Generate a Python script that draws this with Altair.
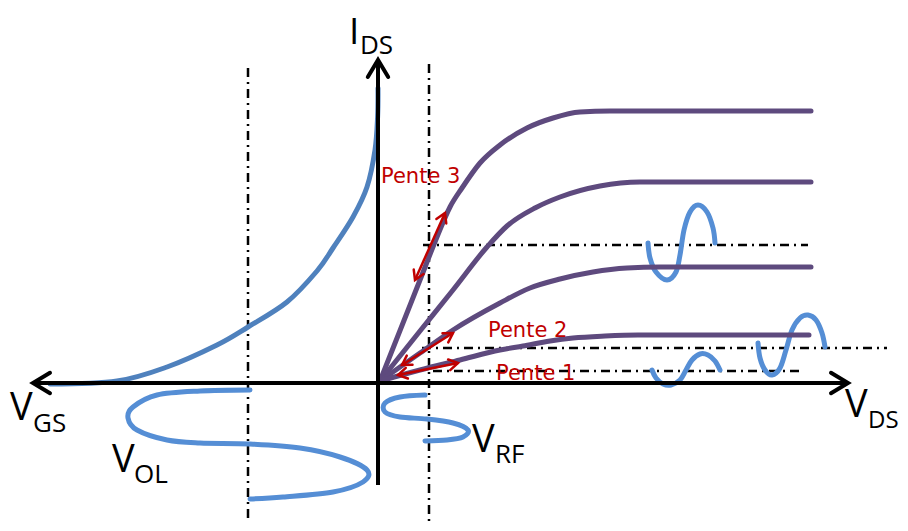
import math
import altair as alt
import pandas as pd

# ---------------- data (diagram units: x to the right, y downward) ----------------
# axes
AXIS_VDS_X = [33, 848]
AXIS_VDS_Y = [383, 383]
AXIS_IDS_X = [378, 378]
AXIS_IDS_Y = [485, 60]

# dash-dot guide lines
VGUIDE_OL_X = [248, 248]
VGUIDE_OL_Y = [68, 531]
VGUIDE_RF_X = [429, 429]
VGUIDE_RF_Y = [64, 531]
HGUIDE_TOP_X = [423, 808]
HGUIDE_TOP_Y = [245, 245]
HGUIDE_MID_X = [422, 887]
HGUIDE_MID_Y = [348, 348]
HGUIDE_LOW_X = [433, 803]
HGUIDE_LOW_Y = [371, 371]

# output characteristics I_DS(V_DS)
CURVE1_X = [380, 403, 420, 437, 450, 462, 480, 500, 527, 553, 580, 610, 811]
CURVE1_Y = [381, 323, 280, 237, 207, 188, 163, 145, 128, 118, 112, 111, 111]
CURVE2_X = [380, 420, 453, 487, 507, 535, 560, 600, 640, 811]
CURVE2_Y = [381, 331, 290, 247, 226, 208, 197, 186, 182, 182]
CURVE3_X = [380, 420, 453, 500, 530, 560, 593, 627, 660, 811]
CURVE3_Y = [381, 353, 330, 303, 288, 279, 272, 268, 267, 267]
CURVE4_X = [380, 420, 460, 500, 523, 550, 573, 605, 638, 809]
CURVE4_Y = [381, 370, 360, 350, 346, 341, 338, 336, 335, 335]

# transfer characteristic I_DS(V_GS)
TRANSFER_X = [50, 117, 167, 217, 248, 287, 317, 333, 353, 367, 375, 377.6, 378]
TRANSFER_Y = [384, 381, 367, 345, 327, 302, 271, 248, 217, 187, 150, 117, 88]

# sinusoidal signals
VOL_X = [250, 200, 157, 133, 128, 137, 167, 200, 250, 300, 340, 367, 363, 333, 283, 250]
VOL_Y = [390, 391, 395, 407, 418, 430, 440, 443, 444, 448, 457, 470, 482, 492, 497, 499]
VRF_X = [425, 400, 385, 385, 400, 427, 453, 468, 463, 447, 425]
VRF_Y = [395, 397, 403, 412, 417, 419, 423, 430, 437, 440, 441]
WAVE_A_X = [648, 650, 656, 667, 676, 680, 684, 690, 698, 707, 713, 715]
WAVE_A_Y = [243, 258, 272, 280, 272, 255, 230, 212, 205, 212, 228, 243]
WAVE_B_X = [758, 760, 765, 772, 780, 786, 792, 800, 808, 816, 822, 825]
WAVE_B_Y = [343, 358, 370, 375, 368, 350, 330, 318, 315, 320, 333, 347]
WAVE_C_X = [652, 656, 663, 671, 680, 686, 692, 700, 708, 715, 720]
WAVE_C_Y = [370, 378, 384, 385, 380, 370, 360, 354, 355, 361, 370]

# red double arrows (slopes): [x_a, y_a, x_b, y_b]
SLOPE_ARROWS = [
    [445, 213, 415, 280],
    [453, 333, 402, 365],
    [458, 363, 398, 375],
]

# axis arrow tips: [tip_x, tip_y, tail_x, tail_y]
AXIS_TIPS = [
    [848, 383, 800, 383],
    [33, 383, 80, 383],
    [378, 60, 378, 100],
]

# labels: text, x, baseline y, size
BIG_LABELS = [
    ["I", 349, 44, 37], ["DS", 360, 54, 26],
    ["V", 10, 420, 38], ["GS", 33, 432, 26],
    ["V", 112, 472, 38], ["OL", 134, 483, 26],
    ["V", 472, 452, 38], ["RF", 495, 463, 26],
    ["V", 845, 417, 38], ["DS", 868, 428, 24],
]
PENTE_LABELS = [["Pente 3", 381, 183], ["Pente 2", 488, 337], ["Pente 1", 496, 380]]

# ---------------- styling ----------------
PURPLE = "#5E4A7E"
BLUE_DARK = "#4F81BD"
BLUE = "#558ED5"
RED = "#C00000"
DASHDOT = [9, 5, 2, 5]

W, H = 892, 515
XS = alt.Scale(domain=[8, 8 + W], nice=False, zero=False)
YS = alt.Scale(domain=[8, 8 + H], nice=False, zero=False, reverse=True)


def enc_xy():
    return dict(x=alt.X("x:Q", scale=XS, axis=None), y=alt.Y("y:Q", scale=YS, axis=None))


def path(xs, ys, color, width, dash=None, interp="linear", cap="round"):
    df = pd.DataFrame({"x": xs, "y": ys, "i": list(range(len(xs)))})
    kw = dict(color=color, strokeWidth=width, strokeCap=cap, interpolate=interp, strokeJoin="round")
    if dash:
        kw["strokeDash"] = dash
    return alt.Chart(df).mark_line(**kw).encode(order=alt.Order("i:Q"), **enc_xy())


def heads(rows, color, width, size):
    recs = []
    for tx, ty, bx, by in rows:
        dx, dy = tx - bx, ty - by
        ang = math.degrees(math.atan2(dx, -dy)) % 360
        recs.append({"x": tx, "y": ty, "angle": ang})
    df = pd.DataFrame(recs)
    return alt.Chart(df).mark_point(
        shape="M-0.6,1L0,0L0.6,1", filled=False, color=color, strokeWidth=width,
        size=size, opacity=1, strokeCap="round", strokeJoin="miter",
    ).encode(angle=alt.Angle("angle:Q", scale=None), **enc_xy())


layers = []
# guides
for xs, ys in [(VGUIDE_OL_X, VGUIDE_OL_Y), (VGUIDE_RF_X, VGUIDE_RF_Y)]:
    layers.append(path(xs, ys, "black", 2.5, DASHDOT, cap="butt"))
for xs, ys in [(HGUIDE_TOP_X, HGUIDE_TOP_Y), (HGUIDE_MID_X, HGUIDE_MID_Y), (HGUIDE_LOW_X, HGUIDE_LOW_Y)]:
    layers.append(path(xs, ys, "black", 2.5, DASHDOT, cap="butt"))

# transfer curve and signals
layers.append(path(TRANSFER_X, TRANSFER_Y, BLUE_DARK, 5, interp="cardinal"))
for xs, ys in [(VOL_X, VOL_Y), (VRF_X, VRF_Y), (WAVE_A_X, WAVE_A_Y), (WAVE_B_X, WAVE_B_Y), (WAVE_C_X, WAVE_C_Y)]:
    layers.append(path(xs, ys, BLUE, 5, interp="cardinal"))

# output curves
for xs, ys in [(CURVE1_X, CURVE1_Y), (CURVE2_X, CURVE2_Y), (CURVE3_X, CURVE3_Y), (CURVE4_X, CURVE4_Y)]:
    layers.append(path(xs, ys, PURPLE, 5, interp="monotone"))

# axes
layers.append(path(AXIS_VDS_X, AXIS_VDS_Y, "black", 4, cap="butt"))
layers.append(path(AXIS_IDS_X, AXIS_IDS_Y, "black", 4, cap="butt"))
layers.append(heads(AXIS_TIPS, "black", 4, (2 * 17) ** 2))

# red slope arrows
for xa, ya, xb, yb in SLOPE_ARROWS:
    layers.append(path([xa, xb], [ya, yb], RED, 2.5, cap="butt"))
red_tips = []
for xa, ya, xb, yb in SLOPE_ARROWS:
    red_tips.append([xa, ya, xb, yb])
    red_tips.append([xb, yb, xa, ya])
layers.append(heads(red_tips, RED, 2.5, (2 * 9) ** 2))

# labels
big = pd.DataFrame(BIG_LABELS, columns=["t", "x", "y", "s"])
layers.append(
    alt.Chart(big).mark_text(align="left", baseline="alphabetic", font="Open Sans", color="black").encode(
        text="t:N", size=alt.Size("s:Q", scale=None), **enc_xy()
    )
)
pente = pd.DataFrame(PENTE_LABELS, columns=["t", "x", "y"])
layers.append(
    alt.Chart(pente).mark_text(align="left", baseline="alphabetic", font="DejaVu Sans", fontSize=21, color=RED).encode(
        text="t:N", **enc_xy()
    )
)

chart = (
    alt.layer(*layers)
    .properties(width=W, height=H, padding=0, autosize=alt.AutoSizeParams(type="none"), background="white")
    .configure_view(stroke=None)
)
chart.save("out.html", embed_options={"renderer": "svg", "actions": False})
